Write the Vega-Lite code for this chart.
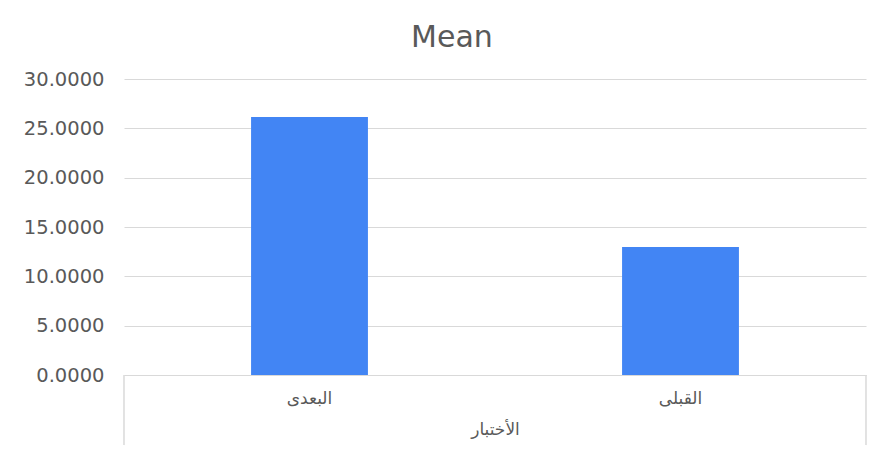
{
  "$schema": "https://vega.github.io/schema/vega-lite/v6.json",
  "autosize": {"type": "none"},
  "padding": {"left": 124, "top": 79, "right": 16, "bottom": 80},
  "width": 742,
  "height": 296,
  "background": "white",
  "title": {
    "text": "Mean",
    "anchor": "middle",
    "frame": "bounds",
    "font": "DejaVu Sans",
    "fontSize": 30,
    "fontWeight": "normal",
    "color": "#595959",
    "offset": 16,
    "dx": 7
  },
  "data": {
    "values": [
      {"test": "البعدى", "mean": 26.15},
      {"test": "القبلى", "mean": 12.97}
    ]
  },
  "encoding": {
    "x": {
      "field": "test",
      "type": "nominal",
      "sort": null,
      "scale": {"paddingInner": 0, "paddingOuter": 0},
      "axis": {
        "title": "الأختبار",
        "labelAngle": 0,
        "domain": true,
        "domainColor": "#d9d9d9",
        "ticks": false,
        "labelPadding": 15,
        "labelFont": "DejaVu Sans",
        "labelFontSize": 17,
        "labelColor": "#595959",
        "titleFont": "DejaVu Sans",
        "titleFontSize": 17,
        "titleFontWeight": "normal",
        "titleColor": "#595959",
        "titlePadding": 15
      }
    }
  },
  "layer": [
    {
      "mark": {"type": "bar", "color": "#4285f4", "width": {"band": 0.315}},
      "encoding": {
        "y": {
          "field": "mean",
          "type": "quantitative",
          "scale": {"domain": [0, 30], "nice": false},
          "axis": {
            "title": null,
            "values": [0, 5, 10, 15, 20, 25, 30],
            "format": ".4f",
            "grid": true,
            "gridColor": "#d9d9d9",
            "domain": false,
            "ticks": false,
            "labelPadding": 20,
            "labelFont": "DejaVu Sans",
            "labelFontSize": 19.5,
            "labelColor": "#595959"
          }
        }
      }
    },
    {
      "mark": {"type": "rule", "color": "#d9d9d9", "strokeWidth": 1, "clip": false},
      "encoding": {
        "x": {"datum": "البعدى", "bandPosition": 0},
        "y": {"datum": 0},
        "y2": {"datum": -7.1}
      }
    },
    {
      "mark": {"type": "rule", "color": "#d9d9d9", "strokeWidth": 1, "clip": false},
      "encoding": {
        "x": {"datum": "القبلى", "bandPosition": 1},
        "y": {"datum": 0},
        "y2": {"datum": -7.1}
      }
    }
  ],
  "config": {"view": {"stroke": null}}
}
